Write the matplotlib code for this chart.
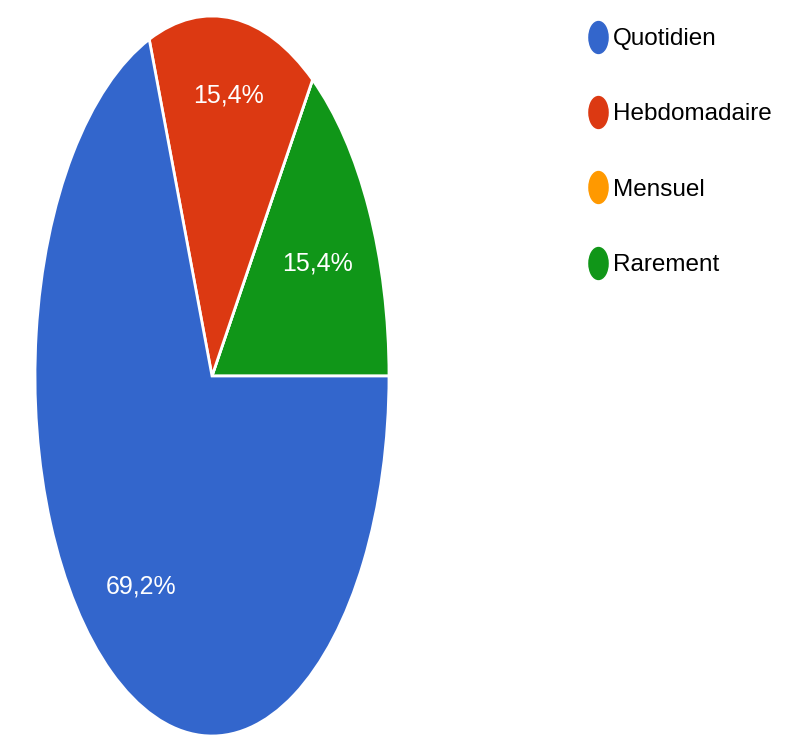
import numpy as np
import matplotlib
matplotlib.use('Agg')
import matplotlib.pyplot as plt
from matplotlib.path import Path
from matplotlib.lines import Line2D

plt.rcParams['font.family'] = ['Liberation Sans', 'DejaVu Sans']

# Data (responses: 9/13, 2/13, 0, 2/13)
categories = ['Quotidien', 'Hebdomadaire', 'Mensuel', 'Rarement']
counts = [9, 2, 0, 2]
colors = ['#3366cc', '#dc3912', '#ff9900', '#109618']

# drawing order: counter-clockwise from 3 o'clock
draw_order = [3, 2, 1, 0]

fig = plt.figure(figsize=(7.9, 7.36), dpi=100)
# pie box in pixels: x 35-389, y 16-736 (stretched vertically like the screenshot)
ax = fig.add_axes([35 / 790, 0.0, 354 / 790, 720 / 736])

vals = [counts[i] for i in draw_order]
cols = [colors[i] for i in draw_order]


def fmt_pct(p):
    if p < 0.05:
        return ''
    return f'{p:.1f}%'.replace('.', ',')


wedges, texts, autotexts = ax.pie(
    vals, colors=cols, startangle=0, counterclock=True,
    autopct=fmt_pct, pctdistance=0.7,
    wedgeprops={'edgecolor': 'white', 'linewidth': 2},
    textprops={'color': 'white', 'fontsize': 18})
ax.set_aspect('auto')
ax.set_xlim(-1, 1)
ax.set_ylim(-1, 1)

# nudge the small-slice labels to where they sit in the original
pct_dist = {0: 0.67, 2: 0.785, 3: 0.71}
for k, t in enumerate(autotexts):
    if k in pct_dist:
        w = wedges[k]
        mid = np.deg2rad((w.theta1 + w.theta2) / 2)
        t.set_position((pct_dist[k] * np.cos(mid), pct_dist[k] * np.sin(mid)))

# tall oval marker like the legend dots
circ = Path.unit_circle()
oval = Path(circ.vertices * np.array([0.6, 1.0]), circ.codes)

handles = [Line2D([], [], linestyle='none', marker=oval, markersize=23,
                  markerfacecolor=c, markeredgecolor=c) for c in colors]
fig.legend(handles, categories, loc='upper left',
           bbox_to_anchor=(586 / 790, 1.0 - 28 / 736), frameon=False,
           fontsize=17.5, borderaxespad=0, borderpad=0, handlelength=0.95,
           handletextpad=0.15, labelspacing=2.2)

fig.savefig('out.png', dpi=100)
